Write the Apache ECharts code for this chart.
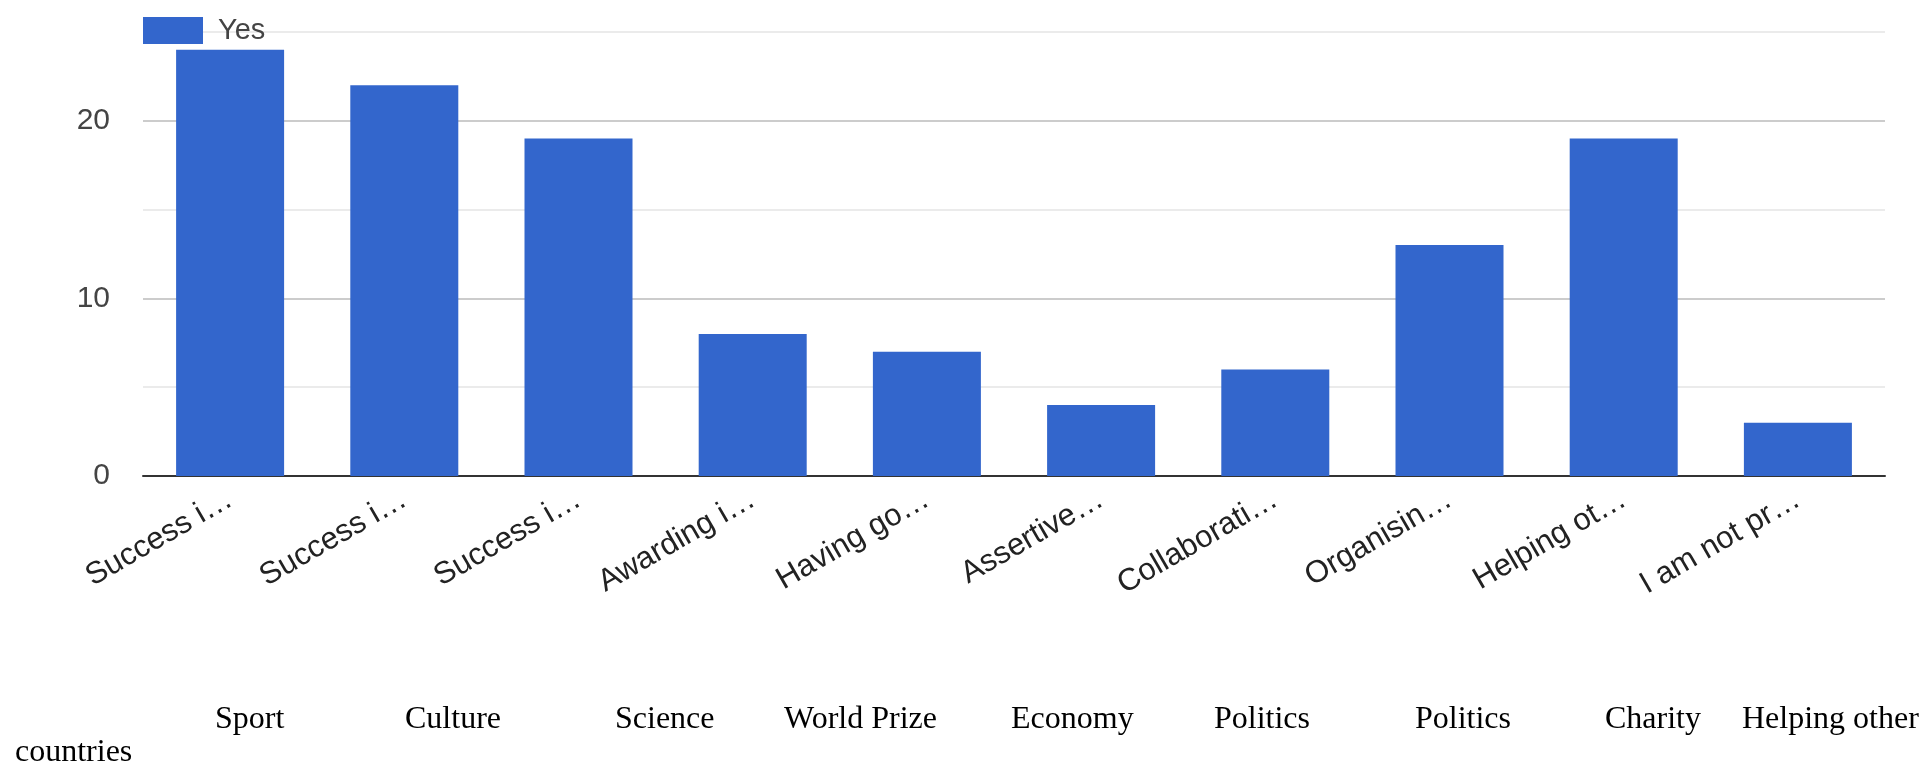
<!DOCTYPE html>
<html>
<head>
<meta charset="utf-8">
<script src="https://cdn.jsdelivr.net/npm/echarts@6/dist/echarts.min.js"></script>
<style>
html,body{margin:0;padding:0;background:#fff;}
#chart{width:1926px;height:769px;}
</style>
</head>
<body>
<div id="chart"></div>
<script>
const categories = ["Success i…","Success i…","Success i…","Awarding i…","Having go…","Assertive…","Collaborati…","Organisin…","Helping ot…","I am not pr…"];
const seriesName = "Yes";
const yesValues = [24, 22, 19, 8, 7, 4, 6, 13, 19, 3];
const yTicks = [0, 10, 20];
const captionWords = ["Sport","Culture","Science","World Prize","Economy","Politics","Politics","Charity","Helping other"];
const captionWrap = "countries";

const captionX = [215, 405, 615, 784, 1011, 1214, 1415, 1605, 1742];

const chart = echarts.init(document.getElementById('chart'));
const serif = '32px "Liberation Serif", "Times New Roman", serif';
const graphics = captionWords.map((w, i) => ({
  type: 'text', x: captionX[i], y: 720,
  style: { text: w, font: serif, fill: '#000', verticalAlign: 'middle', align: 'left' }
}));
graphics.push({
  type: 'text', x: 15, y: 753,
  style: { text: captionWrap, font: serif, fill: '#000', verticalAlign: 'middle', align: 'left' }
});

chart.setOption({
  animation: false,
  backgroundColor: '#fff',
  grid: { left: 143, right: 41, top: 32, bottom: 293, containLabel: false },
  legend: {
    left: 143, top: 16, padding: 0, itemWidth: 60, itemHeight: 27, icon: 'rect',
    textStyle: { fontSize: 29, color: '#444', fontFamily: '"Liberation Sans", Arial, sans-serif', padding: [0,0,0,10] },
    data: [seriesName]
  },
  xAxis: {
    type: 'category', data: categories,
    axisLine: { lineStyle: { color: '#333', width: 2 } },
    axisTick: { show: false },
    axisLabel: { rotate: 30, margin: 21, fontSize: 31, color: '#222', fontFamily: '"Liberation Sans", Arial, sans-serif', interval: 0 }
  },
  yAxis: {
    type: 'value', min: 0, max: 25, interval: 5,
    axisLine: { show: false }, axisTick: { show: false },
    axisLabel: {
      margin: 33, fontSize: 30, color: '#444', fontFamily: '"Liberation Sans", Arial, sans-serif',
      formatter: v => yTicks.includes(v) ? String(v) : ''
    },
    splitLine: { lineStyle: { color: ['#cccccc', '#ebebeb'], width: 2 } }
  },
  series: [{
    name: seriesName, type: 'bar', data: yesValues,
    barCategoryGap: '38%',
    itemStyle: { color: '#3366cc' }
  }],
  graphic: graphics
});
</script>
</body>
</html>
